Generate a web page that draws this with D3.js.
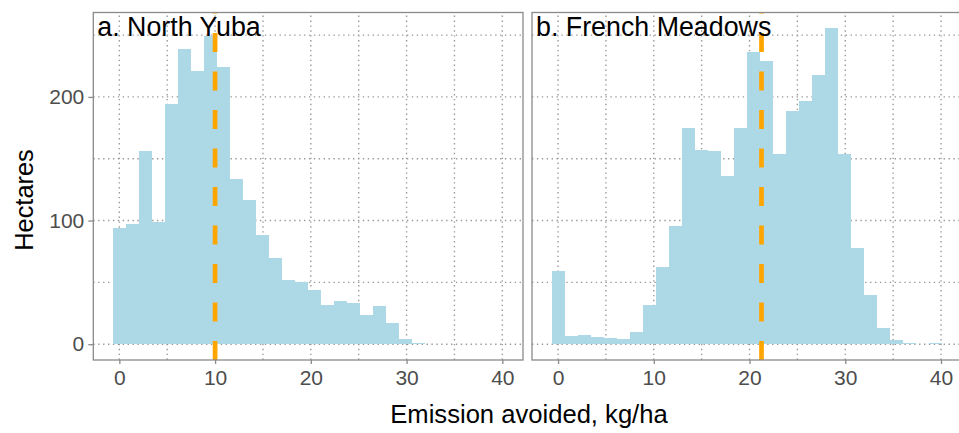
<!DOCTYPE html>
<html>
<head>
<meta charset="utf-8">
<script src="https://cdn.jsdelivr.net/npm/d3@7"></script>
<style>
  html, body { margin: 0; padding: 0; background: #fff; }
  svg { display: block; font-family: "Liberation Sans", Arial, sans-serif; }
</style>
</head>
<body>
<svg id="chart" width="959" height="433"></svg>
<script>
// ---- data ----
const binCenters = [0, 1.36, 2.72, 4.08, 5.44, 6.8, 8.16, 9.52, 10.88, 12.24,
  13.6, 14.96, 16.32, 17.68, 19.04, 20.4, 21.76, 23.12, 24.48, 25.84,
  27.2, 28.56, 29.92, 31.28, 32.64, 34.0, 35.36, 36.72, 38.08, 39.44];
const binWidth = 1.36;
const panelTitles = ["a. North Yuba", "b. French Meadows"];
const northYuba = [94, 97, 156, 99, 194, 239, 221, 249, 224, 134,
  117, 88, 70, 52, 50, 43.5, 32, 35, 33.5, 24,
  31, 17, 4, 0.8, 0.5, 0, 0, 0, 0, 0];
const frenchMeadows = [59, 6.7, 7.5, 5.9, 5.4, 4.6, 9.9, 32, 62.5, 96,
  175, 157, 156.5, 136, 175, 236, 229, 154, 189, 196.5,
  218, 255.5, 154, 78, 40, 13, 3.5, 0.8, 0.5, 0.8];
const medians = [10.0, 21.25];
const xTicks = [0, 10, 20, 30, 40];
const xMinor = [5, 15, 25, 35];
const yTicks = [0, 100, 200];
const yMinor = [50, 150, 250];
const xTitle = "Emission avoided, kg/ha";
const yTitle = "Hectares";

// ---- layout ----
const svg = d3.select("#chart");
const panelW = 429.7, panelTop = 12.5, panelBottom = 360;
const panelLefts = [93.3, 532];
const series = [northYuba, frenchMeadows];

const xLo = binCenters[0] - binWidth / 2;
const xHi = binCenters[binCenters.length - 1] + binWidth / 2;
const xPad = (xHi - xLo) * 0.05;
const yMax = d3.max(series.flat());
const y = d3.scaleLinear().domain([-0.05 * yMax, 1.05 * yMax]).range([panelBottom, panelTop]);

const gridColor = "#999999";
const axisColor = "#8a8a8a";

series.forEach((vals, p) => {
  const left = panelLefts[p];
  const x = d3.scaleLinear().domain([xLo - xPad, xHi + xPad]).range([left, left + panelW]);
  const g = svg.append("g");

  // grid (dotted, major + minor)
  const grid = g.append("g").attr("stroke", gridColor).attr("stroke-width", 1.4)
    .attr("stroke-dasharray", "1.4,3.5").attr("fill", "none");
  xTicks.concat(xMinor).forEach(v => {
    grid.append("line").attr("x1", x(v)).attr("x2", x(v)).attr("y1", panelBottom).attr("y2", panelTop);
  });
  yTicks.concat(yMinor).forEach(v => {
    grid.append("line").attr("x1", left).attr("x2", left + panelW).attr("y1", y(v)).attr("y2", y(v));
  });

  // bars
  g.append("g").selectAll("rect")
    .data(binCenters.map((c, i) => ({ c, v: vals[i] })).filter(d => d.v > 0))
    .join("rect")
    .attr("x", d => x(d.c - binWidth / 2))
    .attr("width", d => x(d.c + binWidth / 2) - x(d.c - binWidth / 2))
    .attr("y", d => y(d.v))
    .attr("height", d => y(0) - y(d.v))
    .attr("fill", "#ADD8E6")
    .attr("shape-rendering", "crispEdges");

  // median dashed line (pattern starting at bottom)
  g.append("line")
    .attr("x1", x(medians[p])).attr("x2", x(medians[p]))
    .attr("y1", panelBottom).attr("y2", panelTop)
    .attr("stroke", "#FFA500").attr("stroke-width", 4.7)
    .attr("stroke-dasharray", "19,19.5");

  // border
  g.append("rect").attr("x", left).attr("y", panelTop)
    .attr("width", panelW).attr("height", panelBottom - panelTop)
    .attr("fill", "none").attr("stroke", axisColor).attr("stroke-width", 1.3);

  // x axis
  const xAxis = d3.axisBottom(x).tickValues(xTicks).tickSize(4).tickPadding(6).tickFormat(d3.format("d"));
  const xa = g.append("g").attr("transform", `translate(0,${panelBottom})`).call(xAxis);
  xa.select(".domain").remove();
  xa.selectAll(".tick line").attr("stroke", axisColor).attr("stroke-width", 1.3);
  xa.selectAll(".tick text").attr("fill", "#4d4d4d").attr("font-size", 21)
    .attr("font-family", "Liberation Sans, Arial, sans-serif").attr("dy", "0.72em");

  // y axis (left panel only)
  if (p === 0) {
    const yAxis = d3.axisLeft(y).tickValues(yTicks).tickSize(5).tickPadding(4);
    const ya = g.append("g").attr("transform", `translate(${left},0)`).call(yAxis);
    ya.select(".domain").remove();
    ya.selectAll(".tick line").attr("stroke", axisColor).attr("stroke-width", 1.3);
    ya.selectAll(".tick text").attr("fill", "#4d4d4d").attr("font-size", 21)
      .attr("font-family", "Liberation Sans, Arial, sans-serif");
  }

  // panel title
  g.append("text").attr("x", left + 4).attr("y", 36)
    .attr("font-size", 26.8).attr("fill", "#000").text(panelTitles[p]);
});

// axis titles
svg.append("text").attr("x", 529).attr("y", 423).attr("text-anchor", "middle")
  .attr("font-size", 25.6).attr("fill", "#000").text(xTitle);
svg.append("text").attr("transform", "translate(33,200) rotate(-90)").attr("text-anchor", "middle")
  .attr("font-size", 25.4).attr("fill", "#000").text(yTitle);
</script>
</body>
</html>
